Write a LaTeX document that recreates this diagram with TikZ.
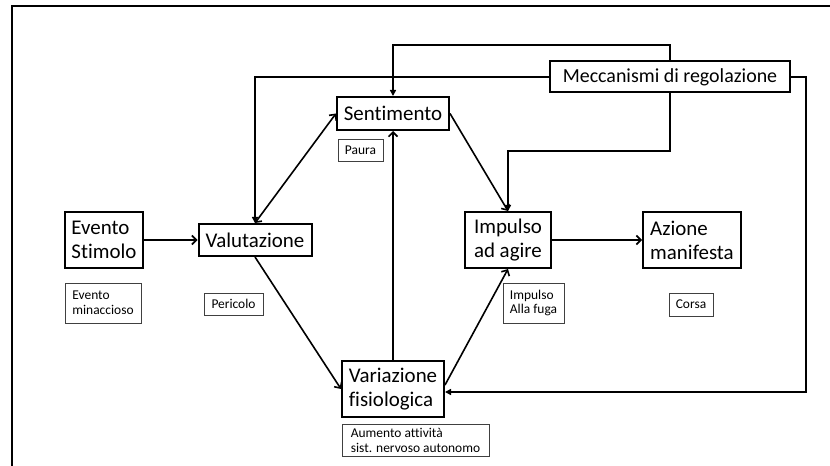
\documentclass[tikz,border=0pt]{standalone}
\usepackage{fontspec}
\setmainfont{Carlito}[Ligatures={NoCommon}]
\usetikzlibrary{arrows.meta}
\begin{document}
\begin{tikzpicture}[x=1bp,y=-1bp,
  mainbox/.style={draw=black, line width=2bp, inner sep=0pt, align=left,
    font=\fontsize{21}{24}\selectfont},
  notebox/.style={draw=black!75, line width=0.8bp, inner sep=0pt, align=left,
    font=\fontsize{13.5}{15}\selectfont},
  flow/.style={line width=1.6bp, -{Straight Barb[length=4.5bp,width=9bp,line width=1.6bp]}},
  both/.style={line width=1.6bp, {Straight Barb[length=4.5bp,width=9bp,line width=1.6bp]}-{Straight Barb[length=4.5bp,width=9bp,line width=1.6bp]}},
  ctrl/.style={line width=1.6bp, -{Triangle[length=6bp,width=6bp]}}]
\useasboundingbox (0,0) rectangle (830,466);
% outer frame
\draw[line width=2.8bp] (830,6) -- (12,6) -- (12,466);

% main boxes
\node[mainbox, minimum width=78bp, minimum height=56bp] (ev) at (104,240) {Evento\\Stimolo};
\node[mainbox, minimum width=113bp, minimum height=32bp] (val) at (255,240) {Valutazione};
\node[mainbox, minimum width=112bp, minimum height=33bp] (sen) at (393,113.5) {Sentimento};
\node[mainbox, minimum width=240bp, minimum height=31bp, font=\fontsize{20}{24}\selectfont] (mec) at (670,77) {Meccanismi di regolazione};
\node[mainbox, minimum width=86bp, minimum height=56bp] (imp) at (508,240) {Impulso\\ad agire};
\node[mainbox, minimum width=98bp, minimum height=56bp] (az) at (692,240) {Azione\\manifesta};
\node[mainbox, minimum width=102bp, minimum height=56bp] (var) at (393,389) {Variazione\\fisiologica};

% notes
\node[notebox, minimum width=76bp, minimum height=40bp] (evs) at (103,303) {Evento\\minaccioso};
\node[notebox, minimum width=59bp, minimum height=22bp] (per) at (233.5,304) {Pericolo};
\node[notebox, minimum width=45bp, minimum height=22bp] (pau) at (360.5,150) {Paura};
\node[notebox, minimum width=61bp, minimum height=40bp] (imps) at (533.5,303) {Impulso\\Alla fuga};
\node[notebox, minimum width=44bp, minimum height=23bp] (cor) at (691,304.5) {Corsa};
\node[notebox, minimum width=147bp, minimum height=32bp] (aum) at (415.5,440) {Aumento attività\\sist. nervoso autonomo};

% main flow
\draw[flow] (ev.east) -- (val.west);
\draw[both] (val.north) -- (sen.west);
\draw[flow] (val.south) -- (var.west);
\draw[flow] (var.north) -- (sen.south);
\draw[flow] (sen.east) -- (imp.north);
\draw[flow] ([yshift=4bp]var.east) -- (imp.south);
\draw[flow] (imp.east) -- (az.west);

% regulation feedback
\draw[ctrl] (mec.north) -- ++(0,-15.5) -| (sen.north);
\draw[ctrl] (mec.west) -| (val.north);
\draw[ctrl] (mec.south) -- ++(0,57.5) -| (imp.north);
\draw[ctrl] (mec.east) -- ++(15,0) |- ([yshift=-3bp]var.east);
\end{tikzpicture}
\end{document}
